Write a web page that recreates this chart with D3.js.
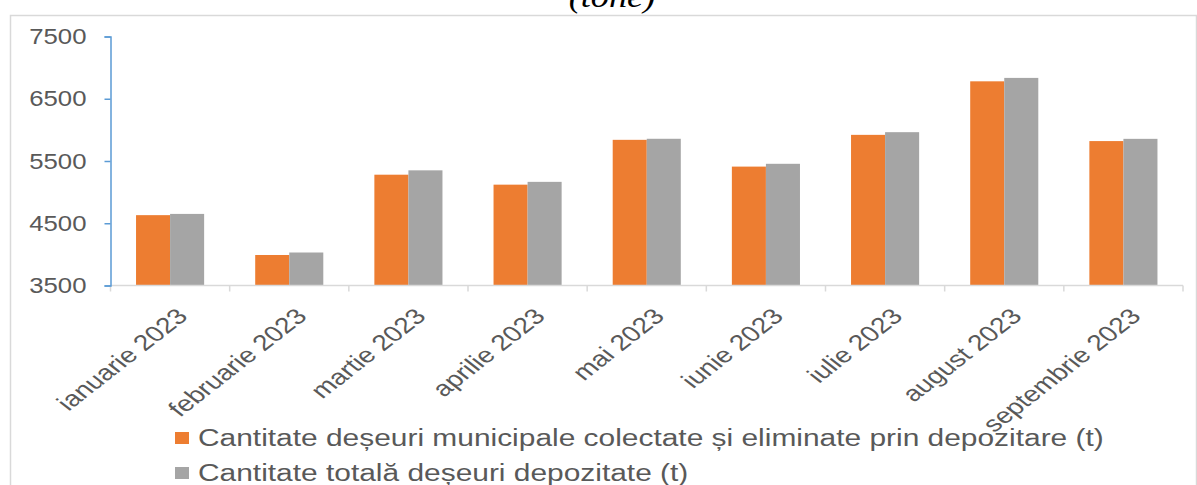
<!DOCTYPE html>
<html>
<head>
<meta charset="utf-8">
<script src="https://cdn.jsdelivr.net/npm/d3@7"></script>
<style>
  body { margin: 0; background: #fff; }
  svg { display: block; }
</style>
</head>
<body>
<div id="chart"></div>
<script>
// data
const months = ['ianuarie 2023', 'februarie 2023', 'martie 2023', 'aprilie 2023', 'mai 2023',
  'iunie 2023', 'iulie 2023', 'august 2023', 'septembrie 2023'];
const seriesNames = [
  'Cantitate deșeuri municipale colectate și eliminate prin depozitare (t)',
  'Cantitate totală deșeuri depozitate (t)'
];
const municipale = [4630, 3990, 5280, 5120, 5840, 5410, 5920, 6780, 5820];
const totalDepozitate = [4650, 4030, 5350, 5165, 5857, 5455, 5963, 6835, 5856];
const yTicks = [3500, 4500, 5500, 6500, 7500];

const colors = ['#ed7d31', '#a5a5a5'];
const textColor = '#595959';
const STRETCH = 1.17; // the source picture is a bit wider than tall

const width = 1197, height = 485;
const plot = { left: 110.5, right: 1183, top: 36.5, bottom: 285.5 };

const svg = d3.select('#chart').append('svg')
  .attr('width', width)
  .attr('height', height)
  .style('font-family', '"Liberation Sans", Arial, sans-serif');

// widen text the way the picture does
function stretch(sel, k) {
  sel.each(function () {
    const w = this.getComputedTextLength();
    d3.select(this).attr('textLength', w * (k || STRETCH)).attr('lengthAdjust', 'spacingAndGlyphs');
  });
}

// frame of the chart area
svg.append('rect')
  .attr('x', 10.5).attr('y', 15.5)
  .attr('width', 1186).attr('height', 500)
  .attr('fill', 'none')
  .attr('stroke', '#d9d9d9')
  .attr('stroke-width', 1.5);

// title, mostly cut off at the top
svg.append('text')
  .attr('x', 612).attr('y', 7)
  .attr('text-anchor', 'middle')
  .style('font-family', '"Liberation Serif", "Times New Roman", serif')
  .style('font-style', 'italic')
  .style('font-size', '31px')
  .attr('fill', '#000')
  .text('(tone)')
  .call(stretch);

// scales
const x0 = d3.scaleBand().domain(months).range([plot.left, plot.right]);
const x1 = d3.scaleBand().domain([0, 1]).range([0, x0.bandwidth()]).paddingOuter(0.75);
const y = d3.scaleLinear().domain([3500, 7500]).range([plot.bottom, plot.top]);

const table = months.map((m, i) => ({ month: m, values: [municipale[i], totalDepozitate[i]] }));

// bars
const groups = svg.selectAll('.month')
  .data(table)
  .join('g')
  .attr('class', 'month')
  .attr('transform', d => `translate(${x0(d.month)},0)`);

groups.selectAll('rect')
  .data(d => d.values.map((v, k) => ({ k, v })))
  .join('rect')
  .attr('x', d => x1(d.k))
  .attr('width', x1.bandwidth())
  .attr('y', d => y(d.v))
  .attr('height', d => y(3500) - y(d.v))
  .attr('fill', d => colors[d.k]);

// x axis: ticks on the category boundaries
const xAxis = svg.append('g');
xAxis.append('line')
  .attr('x1', plot.left).attr('x2', plot.right)
  .attr('y1', plot.bottom).attr('y2', plot.bottom)
  .attr('stroke', '#d9d9d9').attr('stroke-width', 1.5);
xAxis.selectAll('.xtick')
  .data(months.map(m => x0(m)).concat([plot.right]))
  .join('line')
  .attr('class', 'xtick')
  .attr('x1', d => d).attr('x2', d => d)
  .attr('y1', plot.bottom).attr('y2', plot.bottom + 6)
  .attr('stroke', '#d9d9d9').attr('stroke-width', 1.5);

// rotated labels, widened horizontally like the rest of the picture
xAxis.selectAll('.xlabel')
  .data(months)
  .join('text')
  .attr('class', 'xlabel')
  .attr('text-anchor', 'end')
  .attr('transform', d => `translate(${x0(d) + x0.bandwidth() / 2 + 19},${plot.bottom + 32}) scale(1.28,1) rotate(-45)`)
  .style('font-size', '22px')
  .attr('fill', textColor)
  .text(d => d);

// y axis
const yAxis = svg.append('g')
  .attr('transform', `translate(${plot.left},0)`)
  .call(d3.axisLeft(y).tickValues(yTicks).tickSize(6).tickPadding(18).tickFormat(d3.format('d')));
yAxis.select('.domain').attr('stroke', '#5b9bd5').attr('stroke-width', 1.5);
yAxis.selectAll('.tick line').attr('stroke', '#5b9bd5').attr('stroke-width', 1.5);
yAxis.selectAll('.tick text')
  .attr('fill', textColor)
  .style('font-size', '22px')
  .style('font-family', '"Liberation Sans", Arial, sans-serif')
  .call(stretch);

// legend
const legend = svg.selectAll('.legend')
  .data(seriesNames)
  .join('g')
  .attr('class', 'legend')
  .attr('transform', (d, i) => `translate(175,${432 + i * 35})`);
legend.append('rect')
  .attr('width', 14).attr('height', 12)
  .attr('fill', (d, i) => colors[i]);
legend.append('text')
  .attr('x', 23).attr('y', 14)
  .style('font-size', '23px')
  .attr('fill', textColor)
  .text(d => d)
  .call(stretch, 1.3);
</script>
</body>
</html>
